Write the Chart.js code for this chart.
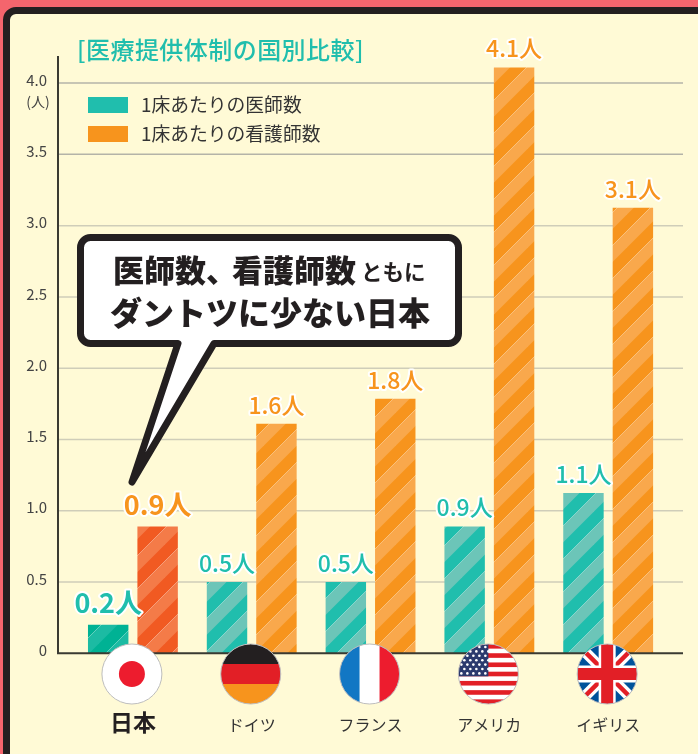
<!DOCTYPE html>
<html lang="ja">
<head>
<meta charset="utf-8">
<title>医療提供体制の国別比較</title>
<script src="https://cdn.jsdelivr.net/npm/chart.js@4"></script>
<style>
  html, body { margin: 0; width: 698px; height: 754px; overflow: hidden; background: #f4656d; }
  .frame { position: absolute; left: 3px; top: 7px; width: 800px; height: 900px; box-sizing: border-box;
           background: #fffad6; border: 7px solid #231f20; border-radius: 13px; }
  canvas { position: absolute; left: 0; top: 0; }
</style>
</head>
<body>
<div class="frame"></div>
<canvas id="chart" width="698" height="754"></canvas>
<script>
// Data
const countries = ['日本', 'ドイツ', 'フランス', 'アメリカ', 'イギリス'];
const doctors = [0.2, 0.5, 0.5, 0.89, 1.125];
const nurses = [0.89, 1.61, 1.785, 4.11, 3.125];
const doctorLabels = ['0.2人', '0.5人', '0.5人', '0.9人', '1.1人'];
const nurseLabels = ['0.9人', '1.6人', '1.8人', '4.1人', '3.1人'];
const doctorName = '1床あたりの医師数';
const nurseName = '1床あたりの看護師数';
const chartTitle = '[医療提供体制の国別比較]';

const TEAL = '#20bead';
const ORANGE = '#f7941d';
const FONT = '"Noto Sans CJK JP", "Noto Sans", sans-serif';

// Diagonal stripes with a hairline on one edge
function stripes(base, light) {
    const p = 33;
    const tile = document.createElement('canvas');
    tile.width = tile.height = p;
    const c = tile.getContext('2d');
    c.fillStyle = base;
    c.fillRect(0, 0, p, p);
    for (let k = 0; k <= 2; k++) {
        const s = k * p;
        c.fillStyle = light;
        c.beginPath();
        c.moveTo(s, 0);
        c.lineTo(s + p / 2, 0);
        c.lineTo(s - p / 2, p);
        c.lineTo(s - p, p);
        c.closePath();
        c.fill();
        c.strokeStyle = 'rgba(255,255,255,0.5)';
        c.lineWidth = 0.7;
        c.beginPath();
        c.moveTo(s, 0);
        c.lineTo(s - p, p);
        c.stroke();
    }
    return c.createPattern(tile, 'repeat');
}

const tealFill = stripes(TEAL, '#6cc5b8');
const orangeFill = stripes(ORANGE, '#f9a84c');
const doctorFills = [stripes('#00b294', '#1cbba3'), tealFill, tealFill, tealFill, tealFill];
const nurseFills = [stripes('#f15a22', '#f47b48'), orangeFill, orangeFill, orangeFill, orangeFill];

function text(ctx, str, x, y, font, color, align, halo) {
    ctx.font = font;
    ctx.textAlign = align || 'left';
    ctx.textBaseline = 'middle';
    if (halo) {
        ctx.lineJoin = 'round';
        ctx.lineWidth = halo;
        ctx.strokeStyle = '#ffffff';
        ctx.strokeText(str, x, y);
    }
    ctx.fillStyle = color;
    ctx.fillText(str, x, y);
}

// Grid runs past the category area, so it is drawn here instead of by the scale
const gridPlugin = {
    id: 'fullGrid',
    beforeDatasetsDraw(chart) {
        const ctx = chart.ctx;
        const y = chart.scales.y;
        ctx.save();
        y.ticks.forEach(t => {
            if (t.value === 0) return;
            const py = y.getPixelForValue(t.value);
            ctx.strokeStyle = t.value >= 3.5 ? '#b4b3a8' : '#cfcdb9';
            ctx.lineWidth = 1.5;
            ctx.beginPath();
            ctx.moveTo(59, py);
            ctx.lineTo(683, py);
            ctx.stroke();
        });
        ctx.restore();
    },
    afterDatasetsDraw(chart) {
        const ctx = chart.ctx;
        const zero = chart.scales.y.getPixelForValue(0);
        ctx.save();
        ctx.strokeStyle = '#3a3a32';
        ctx.lineWidth = 2;
        ctx.beginPath();
        ctx.moveTo(58, 56);
        ctx.lineTo(58, zero);
        ctx.lineTo(683, zero);
        ctx.stroke();
        ctx.restore();
    }
};

function drawBubble(ctx) {
    const l = 80.5, r = 458.5, t = 237.5, b = 343.5, rad = 10;
    ctx.save();
    ctx.beginPath();
    ctx.moveTo(l + rad, t);
    ctx.arcTo(r, t, r, b, rad);
    ctx.arcTo(r, b, l, b, rad);
    ctx.lineTo(214, b);
    ctx.lineTo(132, 482);
    ctx.lineTo(178, b);
    ctx.arcTo(l, b, l, t, rad);
    ctx.arcTo(l, t, r, t, rad);
    ctx.closePath();
    ctx.fillStyle = '#ffffff';
    ctx.fill();
    ctx.lineJoin = 'round';
    ctx.lineWidth = 7;
    ctx.strokeStyle = '#231f20';
    ctx.stroke();
    text(ctx, '医師数、', 113, 270, '900 31px ' + FONT, '#231f20');
    text(ctx, '看護師数', 232, 270, '900 31px ' + FONT, '#231f20');
    text(ctx, 'ともに', 361, 272, '700 21.5px ' + FONT, '#231f20');
    text(ctx, 'ダントツに少ない日本', 110, 313, '900 32px ' + FONT, '#231f20');
    ctx.restore();
}

function drawFlag(ctx, i, x, y, r) {
    ctx.save();
    ctx.beginPath();
    ctx.arc(x, y, r, 0, Math.PI * 2);
    ctx.clip();
    ctx.fillStyle = '#ffffff';
    ctx.fillRect(x - r, y - r, r * 2, r * 2);
    if (i === 0) {
        ctx.fillStyle = '#ed1c2e';
        ctx.beginPath();
        ctx.arc(x, y, 13, 0, Math.PI * 2);
        ctx.fill();
    } else if (i === 1) {
        ctx.fillStyle = '#231f20';
        ctx.fillRect(x - r, y - r, r * 2, 20);
        ctx.fillStyle = '#e21f26';
        ctx.fillRect(x - r, y - 10, r * 2, 20);
        ctx.fillStyle = ORANGE;
        ctx.fillRect(x - r, y + 10, r * 2, 20);
    } else if (i === 2) {
        ctx.fillStyle = '#1277c4';
        ctx.fillRect(x - r, y - r, 20, r * 2);
        ctx.fillStyle = '#ed1c2e';
        ctx.fillRect(x + 10, y - r, 20, r * 2);
    } else if (i === 3) {
        const h = r * 2 / 13;
        ctx.fillStyle = '#e21f26';
        for (let s = 0; s < 13; s += 2) ctx.fillRect(x - r, y - r + s * h, r * 2, h);
        ctx.fillStyle = '#2b3a6d';
        ctx.fillRect(x - r, y - r, r, h * 7);
        ctx.fillStyle = '#ffffff';
        for (let row = 0; row < 7; row++) {
            for (let col = 0; col < 5; col++) {
                ctx.beginPath();
                ctx.arc(x - r + 3 + col * 6 + (row % 2) * 3, y - r + 3 + row * 4.4, 1.3, 0, Math.PI * 2);
                ctx.fill();
            }
        }
    } else {
        ctx.fillStyle = '#00529b';
        ctx.fillRect(x - r, y - r, r * 2, r * 2);
        const diag = (width, color) => {
            ctx.strokeStyle = color;
            ctx.lineWidth = width;
            ctx.beginPath();
            ctx.moveTo(x - r, y - r);
            ctx.lineTo(x + r, y + r);
            ctx.moveTo(x + r, y - r);
            ctx.lineTo(x - r, y + r);
            ctx.stroke();
        };
        diag(11, '#ffffff');
        diag(4.5, '#e21f26');
        ctx.fillStyle = '#ffffff';
        ctx.fillRect(x - 8.5, y - r, 17, r * 2);
        ctx.fillRect(x - r, y - 8.5, r * 2, 17);
        ctx.fillStyle = '#e21f26';
        ctx.fillRect(x - 6, y - r, 12, r * 2);
        ctx.fillRect(x - r, y - 6, r * 2, 12);
    }
    ctx.restore();
    ctx.strokeStyle = '#bdbdbd';
    ctx.lineWidth = 1;
    ctx.beginPath();
    ctx.arc(x, y, r, 0, Math.PI * 2);
    ctx.stroke();
}

const overlayPlugin = {
    id: 'overlay',
    afterDraw(chart) {
        const ctx = chart.ctx;
        const xs = chart.scales.x;
        ctx.save();

        ctx.letterSpacing = '0.45px';
        text(ctx, chartTitle, 77, 50, '500 24px ' + FONT, TEAL);
        ctx.letterSpacing = '0px';
        text(ctx, '(人)', 38, 102, '400 14px ' + FONT, '#444444', 'center');

        // legend
        chart.data.datasets.forEach((ds, i) => {
            const y = 105 + i * 29;
            ctx.fillStyle = i === 0 ? TEAL : ORANGE;
            ctx.fillRect(88, y - 8, 40, 16);
            text(ctx, ds.label, 141, y, '400 18.8px ' + FONT, '#333333');
        });

        drawBubble(ctx);

        countries.forEach((c, i) => {
            drawFlag(ctx, i, xs.getPixelForValue(i) - 1, 674, 30);
        });

        // value labels above each bar
        [doctorLabels, nurseLabels].forEach((labels, d) => {
            const meta = chart.getDatasetMeta(d);
            const color = d === 0 ? TEAL : ORANGE;
            labels.forEach((lab, i) => {
                const bar = meta.data[i];
                const big = i === 0;
                const font = (big ? '700 27px ' : '500 23px ') + FONT;
                text(ctx, lab, bar.x, bar.y - (big ? 22 : 19), font, color, 'center', 4);
            });
        });
        ctx.restore();
    }
};

new Chart(document.getElementById('chart'), {
    type: 'bar',
    data: {
        labels: countries,
        datasets: [
            { label: doctorName, data: doctors, backgroundColor: doctorFills, categoryPercentage: 0.832, barPercentage: 0.818 },
            { label: nurseName, data: nurses, backgroundColor: nurseFills, categoryPercentage: 0.832, barPercentage: 0.818 }
        ]
    },
    options: {
        responsive: false,
        animation: false,
        layout: { padding: { top: 56, right: 28.25, left: 0, bottom: 0 } },
        plugins: { legend: { display: false }, tooltip: { enabled: false } },
        scales: {
            x: {
                grid: { display: false, drawTicks: false },
                border: { display: false },
                afterFit(scale) { scale.height = 100.7; },
                ticks: {
                    autoSkip: false,
                    maxRotation: 0,
                    padding: 55,
                    color: ctx => ctx.index === 0 ? '#231f20' : '#333333',
                    font: ctx => ctx.index === 0
                        ? { family: FONT, size: 23, weight: '700' }
                        : { family: FONT, size: 16, weight: '400', lineHeight: '33.4px' }
                }
            },
            y: {
                min: 0,
                max: 4.19,
                grid: { display: false, drawTicks: false },
                border: { display: false },
                afterFit(scale) { scale.width = 73.5; },
                afterBuildTicks(scale) { scale.ticks = scale.ticks.filter(t => t.value % 0.5 === 0); },
                ticks: {
                    stepSize: 0.5,
                    padding: 26.5,
                    color: '#444444',
                    // the empty second line lifts each label a little above its grid line
                    font: { family: FONT, size: 15, lineHeight: '6px' },
                    callback: v => [v === 0 ? '0' : v.toFixed(1), '']
                }
            }
        }
    },
    plugins: [gridPlugin, overlayPlugin]
});
</script>
</body>
</html>
